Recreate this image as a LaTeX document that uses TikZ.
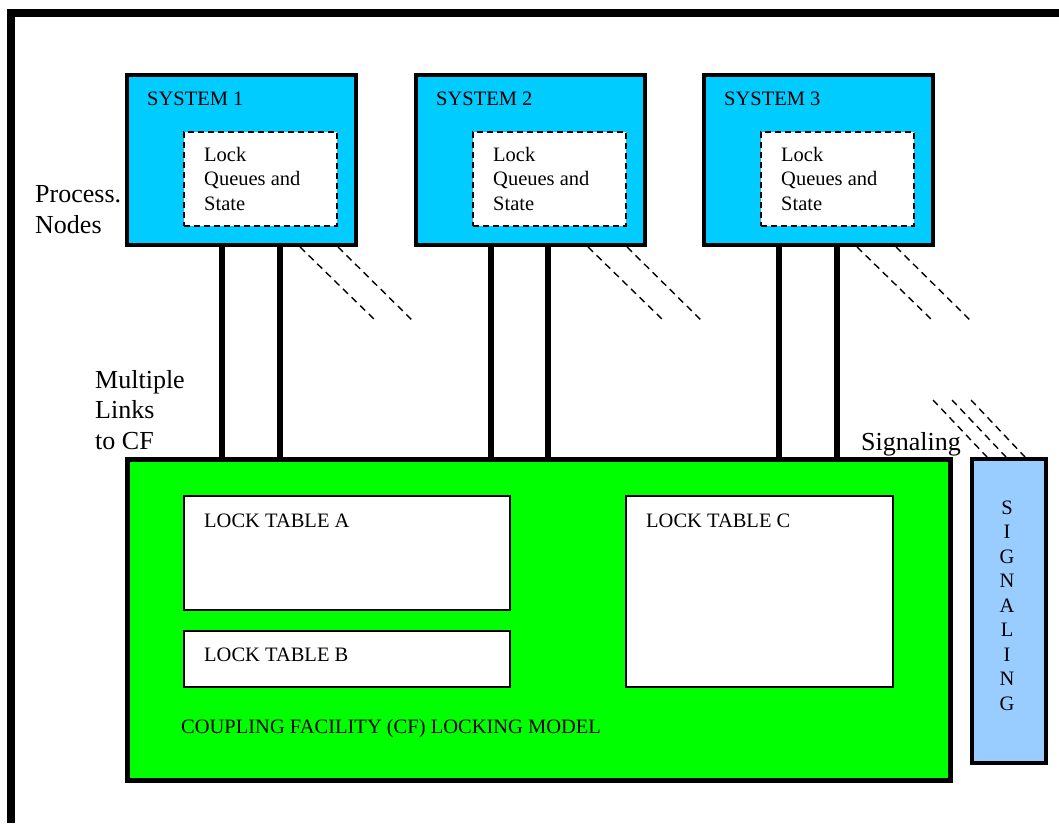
\documentclass[tikz,border=0pt]{standalone}
\usepackage{fontspec}
\setmainfont{Liberation Serif}
\definecolor{syscyan}{HTML}{00CCFF}
\definecolor{cfgreen}{HTML}{00FF00}
\definecolor{sigblue}{HTML}{99CCFF}
\tikzset{
  sysbox/.style={draw=black, fill=syscyan, line width=4pt, anchor=north west,
    inner sep=0pt, minimum width=229pt, minimum height=170pt},
  lockbox/.style={draw=black, fill=white, line width=2pt, dash pattern=on 6pt off 4pt,
    anchor=north west, inner sep=0pt, minimum width=153pt, minimum height=94pt},
  tablebox/.style={draw=black, fill=white, line width=2pt, anchor=north west, inner sep=0pt},
  small/.style={font=\fontsize{20.5}{24.5}\selectfont, inner sep=0pt},
  big/.style={font=\fontsize{26}{30.5}\selectfont, inner sep=0pt, align=left},
  link/.style={line width=5.5pt},
  spare/.style={line width=1.4pt, dash pattern=on 7pt off 5pt},
}
\begin{document}
\begin{tikzpicture}[x=1pt, y=-1pt]
\useasboundingbox (0,0) rectangle (1059,823);
% enclosing frame, running off the right and bottom edges
\draw[line width=8pt] (11,823) -- (11,13) -- (1059,13);

% processing systems with their local lock queues
\foreach \i/\x in {1/125, 2/414, 3/702}{
  \node[sysbox] (sys\i) at (\x,73) {};
  \node[small, anchor=base west] (sysl\i) at (\x+22,105) {SYSTEM \i};
  \node[lockbox] (lq\i) at (\x+58,131) {};
  \node[small, anchor=base west, align=left] (lqt\i) at (\x+79,210) {Lock\\Queues and\\State};
}

% coupling facility
\node[draw=black, fill=cfgreen, line width=5pt, anchor=north west, inner sep=0pt,
      minimum width=823pt, minimum height=321pt] (cf) at (125,457) {};
\node[tablebox, minimum width=326pt, minimum height=114pt] (lta) at (183,495) {};
\node[tablebox, minimum width=326pt, minimum height=56pt] (ltb) at (183,630) {};
\node[tablebox, minimum width=267pt, minimum height=191pt] (ltc) at (625,495) {};
\node[small, anchor=base west] at (204,527) {LOCK TABLE A};
\node[small, anchor=base west] at (204,661) {LOCK TABLE B};
\node[small, anchor=base west] at (646,527) {LOCK TABLE C};
\node[small, anchor=base west] (cfl) at (181,733) {COUPLING FACILITY (CF) LOCKING MODEL};

% signaling box
\node[draw=black, fill=sigblue, line width=4pt, anchor=north west, inner sep=0pt,
      minimum width=74pt, minimum height=304pt] (sig) at (970,457) {};
\node[small, align=center, anchor=base] (sigt) at (1007,710)
  {S\\I\\G\\N\\A\\L\\I\\N\\G};

% links from each system to the CF, plus spare (dashed) links
\foreach \i/\a/\b/\c/\d in {1/97/155/175/213, 2/77/134/174/213, 3/77/135/155/194}{
  \draw[link] ([xshift=\a pt]sys\i.south west) -- ([xshift=\a pt]sys\i.south west |- cf.north);
  \draw[link] ([xshift=\b pt]sys\i.south west) -- ([xshift=\b pt]sys\i.south west |- cf.north);
  \draw[spare] ([xshift=\c pt]sys\i.south west) -- ++(77,75);
  \draw[spare] ([xshift=\d pt]sys\i.south west) -- ++(76,75);
}

% signaling paths
\coordinate (s1) at (933,400);
\coordinate (s2) at (952,400);
\coordinate (s3) at (971,400);
\draw[spare] (s1) -- ([xshift=17pt]sig.north west);
\draw[spare] (s2) -- ([xshift=36pt]sig.north west);
\draw[spare] (s3) -- ([xshift=55pt]sig.north west);

% labels
\node[big, anchor=base west] (pn) at (35,233) {Process.\\Nodes};
\node[big, anchor=base west] (ml) at (95,449) {Multiple\\Links\\to CF};
\node[big, anchor=base west] (sg) at (861,450) {Signaling};
\end{tikzpicture}
\end{document}
